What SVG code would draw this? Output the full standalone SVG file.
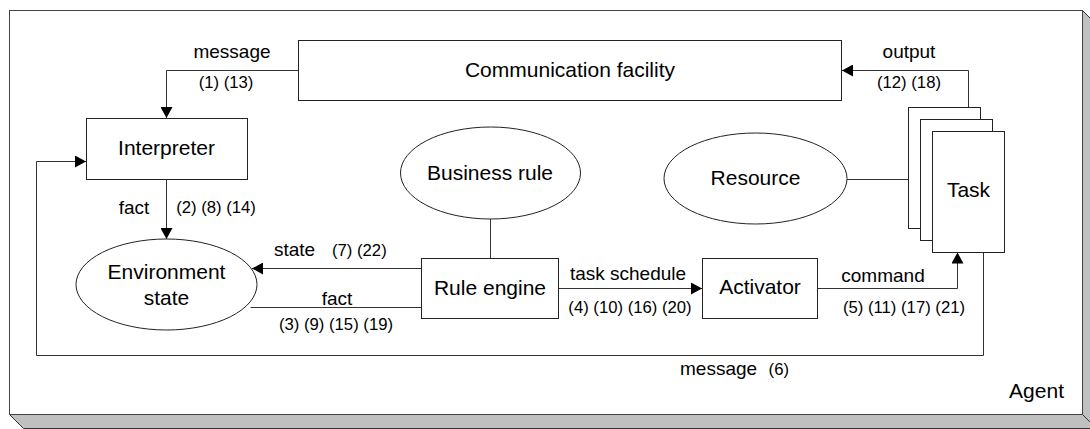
<svg xmlns="http://www.w3.org/2000/svg" width="1090" height="429" viewBox="0 0 1090 429">
<style>
.shape{fill:#fff;stroke:#222;stroke-width:1}
.conn{fill:none;stroke:#333;stroke-width:1}
.node{font-family:"Liberation Sans",Arial,sans-serif;font-size:21px;fill:#000;text-anchor:middle}
.lbl{font-family:"Liberation Sans",Arial,sans-serif;font-size:19px;fill:#000;text-anchor:middle}
.num{font-family:"Liberation Sans",Arial,sans-serif;font-size:16.7px;fill:#000;text-anchor:middle}
</style>
<defs>
<marker id="arr" markerUnits="userSpaceOnUse" markerWidth="12" markerHeight="12" refX="11" refY="6" orient="auto">
<path d="M0,0 L11,6 L0,12 z" fill="#000"/>
</marker>
</defs>
<g id="agent">
<polygon points="9.5,414.5 1082.5,414.5 1096.5,428.5 23.5,428.5" fill="#c0c0c0" stroke="#333"/>
<polygon points="1082.5,10.5 1096.5,24.5 1096.5,428.5 1082.5,414.5" fill="#c0c0c0" stroke="#333"/>
<rect x="9.5" y="10.5" width="1073" height="404" fill="#fff" stroke="#444"/>
<text class="node" x="1064" y="398" style="text-anchor:end">Agent</text>
</g>
<g id="connectors">
<path class="conn" d="M298.5,70.5 H166.5 V118" marker-end="url(#arr)"/>
<path class="conn" d="M968.5,107.5 V70.5 H842" marker-end="url(#arr)"/>
<path class="conn" d="M166.5,179.5 V239" marker-end="url(#arr)"/>
<path class="conn" d="M421,268.5 H252" marker-end="url(#arr)"/>
<path class="conn" d="M421,307.5 H250.5"/>
<path class="conn" d="M490.5,219 V258.5"/>
<path class="conn" d="M558.5,288.5 H702" marker-end="url(#arr)"/>
<path class="conn" d="M817.5,288.5 H957.5 V252.5" marker-end="url(#arr)"/>
<path class="conn" d="M847,179.5 H908.5"/>
<path class="conn" d="M983.5,252.5 V355.5 H36.5 V161.5 H86" marker-end="url(#arr)"/>
<text class="lbl" x="232" y="58">message</text>
<text class="num" x="226" y="88">(1) (13)</text>
<text class="lbl" x="909" y="58">output</text>
<text class="num" x="909" y="88">(12) (18)</text>
<text class="lbl" x="134" y="214">fact</text>
<text class="num" x="216" y="213">(2) (8) (14)</text>
<text class="lbl" x="274" y="256" style="text-anchor:start">state<tspan class="num" x="332" style="text-anchor:start">(7) (22)</tspan></text>
<text class="lbl" x="337" y="305">fact</text>
<text class="num" x="336" y="330">(3) (9) (15) (19)</text>
<text class="lbl" x="628" y="280">task schedule</text>
<text class="num" x="630" y="313">(4) (10) (16) (20)</text>
<text class="lbl" x="883" y="282">command</text>
<text class="num" x="904" y="313">(5) (11) (17) (21)</text>
<text class="lbl" x="680" y="375" style="text-anchor:start">message<tspan class="num" x="789" style="text-anchor:end">(6)</tspan></text>
</g>
<g id="communication">
<rect class="shape" x="298.5" y="40.5" width="543" height="60"/>
<text class="node" x="570" y="77">Communication facility</text>
</g>
<g id="interpreter">
<rect class="shape" x="86.5" y="118.5" width="161" height="61"/>
<text class="node" x="166.5" y="155">Interpreter</text>
</g>
<g id="environment">
<ellipse class="shape" cx="166.5" cy="284.5" rx="90.5" ry="45.5"/>
<text class="node" x="166.5" y="279">Environment</text>
<text class="node" x="166.5" y="305">state</text>
</g>
<g id="business-rule">
<ellipse class="shape" cx="490.5" cy="173" rx="90" ry="46"/>
<text class="node" x="490" y="180">Business rule</text>
</g>
<g id="rule-engine">
<rect class="shape" x="421.5" y="258.5" width="137" height="60"/>
<text class="node" x="490" y="295">Rule engine</text>
</g>
<g id="activator">
<rect class="shape" x="702.5" y="258.5" width="115" height="60"/>
<text class="node" x="760" y="294">Activator</text>
</g>
<g id="resource">
<ellipse class="shape" cx="755.5" cy="178.5" rx="91.5" ry="45.5"/>
<text class="node" x="755.5" y="185">Resource</text>
</g>
<g id="task">
<rect class="shape" x="908.5" y="107.5" width="72" height="121"/>
<rect class="shape" x="920.5" y="119.5" width="72" height="121"/>
<rect class="shape" x="932.5" y="131.5" width="72" height="121"/>
<text class="node" x="968.5" y="197">Task</text>
</g>
</svg>
